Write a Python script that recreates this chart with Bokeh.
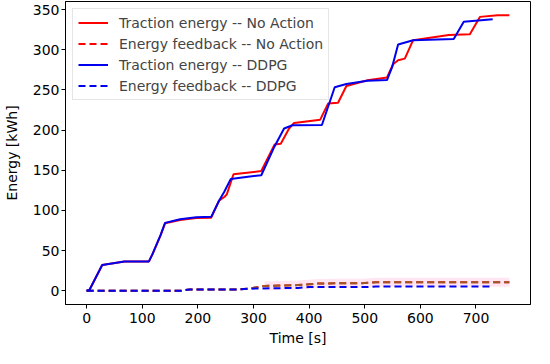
import numpy as np
from bokeh.plotting import figure
from bokeh.models import Range1d, SingleIntervalTicker, Legend, LegendItem
from bokeh.embed import file_html
from bokeh.resources import INLINE

# Traction energy -- No Action
t_trac_na = [0, 5, 28, 68, 112, 118, 133, 141, 168, 197, 224, 238, 248, 252, 264, 314, 338, 349, 364, 373,
             420, 434, 452, 467, 505, 540, 551, 560, 572, 587, 651, 689, 707, 739, 760]
e_trac_na = [0, 1, 32, 36.5, 36.5, 45, 69, 84, 88, 90.5, 91, 112, 117, 120, 145, 149, 182, 183, 202, 209,
             213, 233, 234, 255, 262, 265.5, 282, 287, 289, 312, 318.5, 319.5, 341, 343, 343]

# Traction energy -- DDPG
t_trac_dd = [0, 5, 28, 68, 112, 118, 133, 141, 168, 197, 224, 238, 247, 259, 290, 314, 338, 355, 370, 423,
             446, 467, 505, 540, 549, 560, 587, 660, 678, 730]
e_trac_dd = [0, 1, 32, 36.5, 36.5, 45, 69.5, 84.5, 89, 91.5, 92, 112, 122.6, 139, 142, 143.8, 180, 202, 206, 206.3,
             253.4, 257.4, 261.5, 262.3, 278, 306.5, 311.8, 313.5, 335, 338]

# Energy feedback -- No Action
t_fb_na = [0, 170, 185, 270, 290, 320, 380, 417, 500, 520, 760]
e_fb_na = [0, 0, 1.5, 1.5, 2.5, 6, 7, 9, 9.5, 10.5, 10.5]

# Energy feedback -- DDPG
t_fb_dd = [0, 170, 185, 270, 290, 330, 380, 400, 500, 520, 730]
e_fb_dd = [0, 0, 1.5, 1.5, 2.5, 3, 3.5, 4.5, 4.5, 5.2, 5.2]

FONT = "DejaVu Sans"
FS = "14px"

p = figure(width=532, height=348, output_backend="svg", toolbar_location=None,
           x_range=Range1d(-38, 798), y_range=Range1d(-17.15, 360.15),
           min_border_left=60, min_border_right=2, min_border_top=1, min_border_bottom=42)

p.xgrid.visible = False
p.ygrid.visible = False
p.outline_line_color = "black"
p.outline_line_width = 1
p.background_fill_color = "white"

for ax in (p.xaxis[0], p.yaxis[0]):
    ax.major_label_text_font = FONT
    ax.major_label_text_font_size = FS
    ax.major_label_text_color = "black"
    ax.axis_label_text_font = FONT
    ax.axis_label_text_font_size = FS
    ax.axis_label_text_font_style = "normal"
    ax.axis_label_text_color = "black"
    ax.axis_line_color = "black"
    ax.major_tick_line_color = "black"
    ax.major_tick_out = 4
    ax.major_tick_in = 0
    ax.minor_tick_line_color = None

p.xaxis.major_label_standoff = 4
p.yaxis.major_label_standoff = 2
p.xaxis.ticker = SingleIntervalTicker(interval=100)
p.yaxis.ticker = SingleIntervalTicker(interval=50)
p.xaxis.axis_label = "Time [s]"
p.yaxis.axis_label = "Energy [kWh]"
p.xaxis.axis_label_standoff = 4
p.yaxis.axis_label_standoff = 10

# faint halo under the No Action feedback line (late part)
tn = np.array(t_fb_na); en = np.array(e_fb_na)
m = tn >= 300
p.line(tn[m], en[m], line_color="#ffd6ea", line_width=9, line_alpha=0.6)

r1 = p.line(t_trac_na, e_trac_na, line_color="#ff0000", line_width=2)
r2 = p.line(t_fb_na, e_fb_na, line_color="#ff0000", line_width=2, line_dash="7 4")
p.line(t_fb_na, e_fb_na, line_color="#9a5a2a", line_width=2, line_dash="7 4")
r3 = p.line(t_trac_dd, e_trac_dd, line_color="#0000ee", line_width=2)
r4 = p.line(t_fb_dd, e_fb_dd, line_color="#0000ee", line_width=2, line_dash="7 4")

legend = Legend(items=[
    LegendItem(label="Traction energy -- No Action", renderers=[r1]),
    LegendItem(label="Energy feedback -- No Action", renderers=[r2]),
    LegendItem(label="Traction energy -- DDPG", renderers=[r3]),
    LegendItem(label="Energy feedback -- DDPG", renderers=[r4]),
], location="top_left")
legend.label_text_font = FONT
legend.label_text_font_size = FS
legend.label_height = 17
legend.glyph_height = 17
legend.glyph_width = 30
legend.spacing = 4
legend.padding = 5
legend.margin = 7
legend.label_standoff = 11
legend.border_line_color = "#cccccc"
legend.border_line_width = 1
legend.background_fill_alpha = 0.8
p.add_layout(legend)

open("out.html", "w").write(file_html(p, INLINE))
